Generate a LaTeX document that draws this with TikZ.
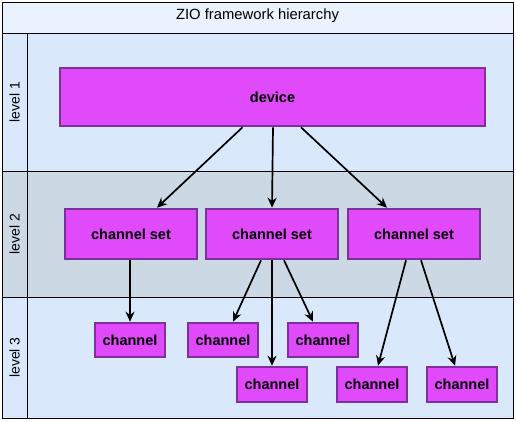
\documentclass[tikz,border=0pt]{standalone}
\usepackage{fontspec}
\setmainfont{Liberation Sans}
\usetikzlibrary{
  positioning,
  arrows.meta
}
\definecolor{titlebg}{RGB}{234,242,253}
\definecolor{lanebg}{RGB}{218,232,252}
\definecolor{lanedark}{RGB}{204,216,228}
\definecolor{unitfill}{RGB}{224,74,250}
\definecolor{unitline}{RGB}{123,50,154}

\begin{document}
\begin{tikzpicture}[>=Stealth, x=1pt, y=-1pt]
  \tikzset{
    lane/.style={draw=black, line width=1pt},
    unit/.style={
      draw=unitline, fill=unitfill, line width=2.6pt, inner sep=0pt,
      font=\fontsize{14.5}{16}\selectfont\bfseries
    },
    link/.style={line width=1.7pt,
      arrows={-Stealth[length=10pt,width=9pt]}
    },
  }
  \useasboundingbox (0,0) rectangle (516,421);

  % lanes
  \draw[lane, fill=titlebg] (2,2) rectangle (513,33);
  \draw[lane, fill=lanebg] (2,33) rectangle (513,171);
  \draw[lane, fill=lanedark] (2,171) rectangle (513,297);
  \draw[lane, fill=lanebg] (2,297) rectangle (513,418);
  \draw[lane] (27,33) -- (27,418);

  \node (title) at (257.5,15.5) {\fontsize{14.8}{16}\selectfont ZIO framework hierarchy};
  \node[rotate=90] (lvl1) at (14.5,102) {\fontsize{14}{16}\selectfont level 1};
  \node[rotate=90] (lvl2) at (14.5,234) {\fontsize{14}{16}\selectfont level 2};
  \node[rotate=90] (lvl3) at (14.5,357.5) {\fontsize{14}{16}\selectfont level 3};

  % level 1
  \node[unit, minimum width=425pt, minimum height=58pt] (dev) at (272.5,97) {device};

  % level 2
  \node[unit, minimum width=132pt, minimum height=50pt] (cs1) at (131,234) {channel set};
  \node[unit, minimum width=132pt, minimum height=50pt] (cs2) at (272,234) {channel set};
  \node[unit, minimum width=132pt, minimum height=50pt] (cs3) at (414,234) {channel set};

  % level 3
  \node[unit, minimum width=70pt, minimum height=34pt] (ch1) at (130,340) {channel};
  \node[unit, minimum width=70pt, minimum height=34pt] (ch2) at (223,340) {channel};
  \node[unit, minimum width=70pt, minimum height=34pt] (ch3) at (323,340) {channel};
  \node[unit, minimum width=70pt, minimum height=35pt] (ch4) at (272,384.5) {channel};
  \node[unit, minimum width=70pt, minimum height=35pt] (ch5) at (372,384.5) {channel};
  \node[unit, minimum width=70pt, minimum height=35pt] (ch6) at (462,384.5) {channel};

  % links
  \draw[link] ([xshift=-30pt]dev.south) -- ([xshift=26pt]cs1.north);
  \draw[link] ([xshift=0.5pt]dev.south) -- (cs2.north);
  \draw[link] ([xshift=28.5pt]dev.south) -- ([xshift=-27pt]cs3.north);

  \draw[link] ([xshift=-1pt]cs1.south) -- (ch1.north);
  \draw[link] ([xshift=-11pt]cs2.south) -- ([xshift=10pt]ch2.north);
  \draw[link] (cs2.south) -- (ch4.north);
  \draw[link] ([xshift=12pt]cs2.south) -- ([xshift=-10pt]ch3.north);
  \draw[link] ([xshift=-8pt]cs3.south) -- ([xshift=6pt]ch5.north);
  \draw[link] ([xshift=7pt]cs3.south) -- ([xshift=-7pt]ch6.north);
\end{tikzpicture}
\end{document}
